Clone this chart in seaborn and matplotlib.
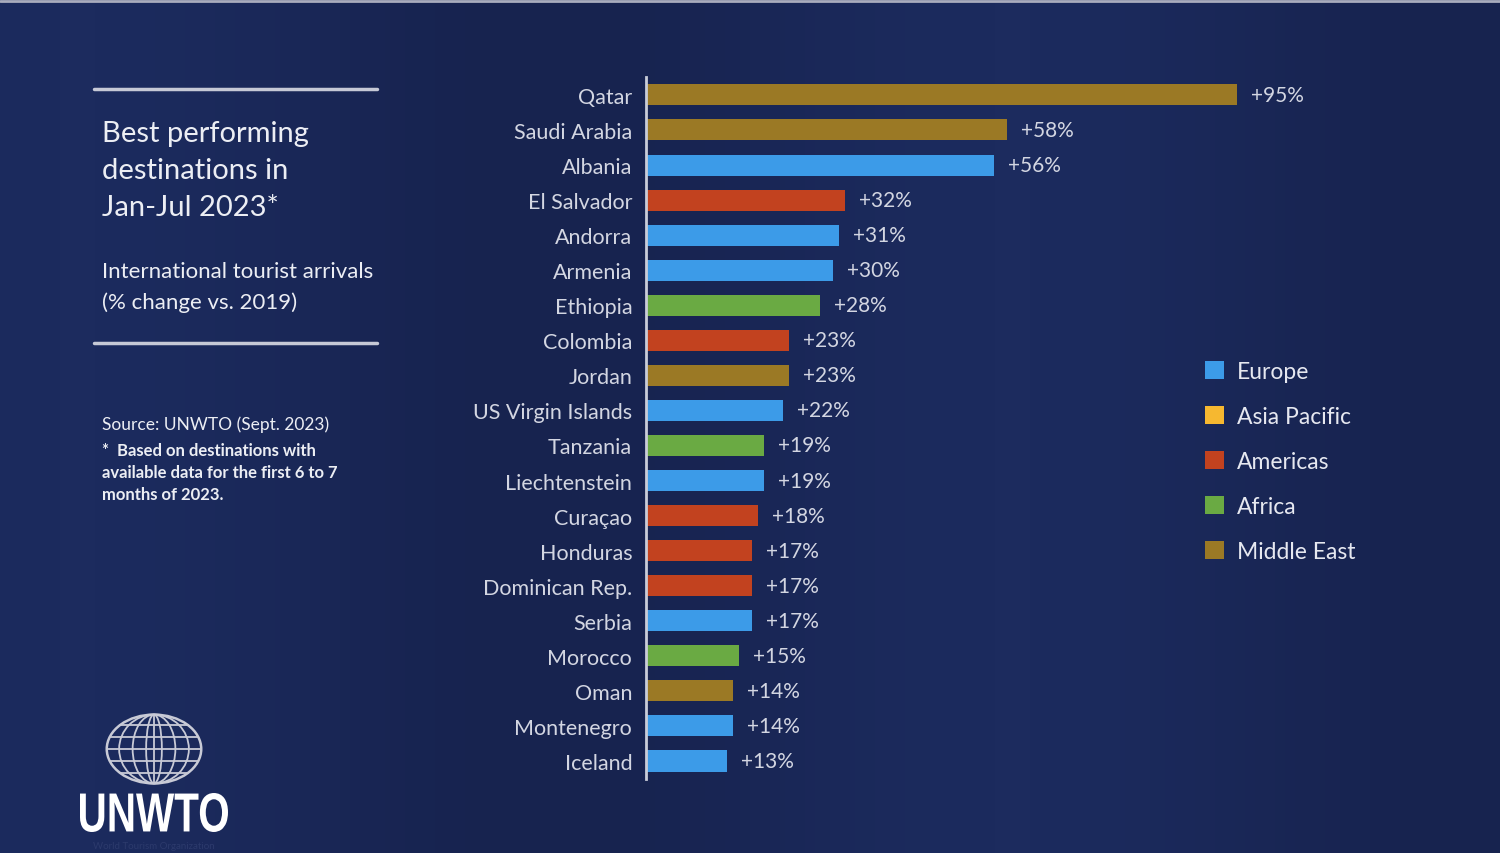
import matplotlib
matplotlib.use("Agg")
import matplotlib.pyplot as plt
import seaborn as sns
import pandas as pd
import numpy as np
from matplotlib.patches import Patch, Ellipse, PathPatch
from matplotlib.textpath import TextPath
from matplotlib.font_manager import FontProperties
from matplotlib.transforms import Affine2D
from matplotlib.colors import LinearSegmentedColormap

# data
countries = ["Qatar", "Saudi Arabia", "Albania", "El Salvador", "Andorra",
             "Armenia", "Ethiopia", "Colombia", "Jordan", "US Virgin Islands",
             "Tanzania", "Liechtenstein", "Curaçao", "Honduras",
             "Dominican Rep.", "Serbia", "Morocco", "Oman", "Montenegro",
             "Iceland"]
change_pct = [95, 58, 56, 32, 31, 30, 28, 23, 23, 22, 19, 19, 18, 17, 17, 17,
              15, 14, 14, 13]
region = ["Middle East", "Middle East", "Europe", "Americas", "Europe",
          "Europe", "Africa", "Americas", "Middle East", "Europe", "Africa",
          "Europe", "Americas", "Americas", "Americas", "Europe", "Africa",
          "Middle East", "Europe", "Europe"]
legend_regions = ["Europe", "Asia Pacific", "Americas", "Africa", "Middle East"]

region_colors = {
    "Europe": "#3c9be8",
    "Asia Pacific": "#f6b830",
    "Americas": "#c2421f",
    "Africa": "#6aaa43",
    "Middle East": "#9b7925",
}

BG = "#1a2758"
TXT = "#d3d6e2"

sns.set_theme(style="white")
plt.rcParams["font.family"] = ["Lato", "DejaVu Sans"]

df = pd.DataFrame({"country": countries, "change": change_pct, "region": region})

fig = plt.figure(figsize=(15, 8.54), dpi=100)
fig.patch.set_facecolor(BG)

# soft background gradient
bg = fig.add_axes([0, 0, 1, 1], zorder=-10)
xx = np.linspace(0, 1, 300)
grad = 0.5 + 0.5 * np.cos((xx - 0.05) * np.pi * 1.6) ** 2
grad = np.tile(grad, (10, 1))
cmap = LinearSegmentedColormap.from_list("bgc", ["#17234f", "#1c2b5e"])
bg.imshow(grad, aspect="auto", cmap=cmap, extent=[0, 1, 0, 1])
bg.axhline(0.998, color="#a9acbd", lw=2)
bg.set_axis_off()

ax = fig.add_axes([0.4307, 0.0872, 0.47, 0.821])
ax.set_facecolor("none")
sns.barplot(data=df, x="change", y="country", hue="region",
            palette=region_colors, dodge=False, width=0.6,
            saturation=1, legend=False, linewidth=0, edgecolor="none", ax=ax)

px_per_unit = (1237 - 646) / 95
ax.set_xlim(0, 0.47 * 1500 / px_per_unit)

for cont in ax.containers:
    ax.bar_label(cont, labels=[f"+{v:.0f}%" for v in cont.datavalues],
                 padding=10, color=TXT, fontsize=15)

ax.set_xlabel("")
ax.set_ylabel("")
ax.set_xticks([])
ax.tick_params(axis="y", length=0, pad=10, labelsize=15.5, labelcolor=TXT)
for s in ["top", "right", "bottom"]:
    ax.spines[s].set_visible(False)
ax.spines["left"].set_color("#c9ccd8")
ax.spines["left"].set_linewidth(2)

handles = [Patch(facecolor=region_colors[r], edgecolor="none", label=r)
           for r in legend_regions]
leg = fig.legend(handles=handles, loc="upper left",
                 bbox_to_anchor=(1184 / 1500, 1 - 341 / 854),
                 frameon=False, fontsize=16.5, labelcolor="#e6e8f0",
                 handlelength=0.85, handleheight=0.85, handletextpad=0.55,
                 labelspacing=1.05)

# left side text panel
fig.add_artist(plt.Line2D([94 / 1500, 377 / 1500], [1 - 90 / 854] * 2,
                          color="#c6c9d6", lw=2.5))
fig.add_artist(plt.Line2D([94 / 1500, 377 / 1500], [1 - 344 / 854] * 2,
                          color="#c6c9d6", lw=2.5))
fig.text(102 / 1500, 1 - 121 / 854,
         "Best performing\ndestinations in\nJan-Jul 2023*",
         color="#eceef4", fontsize=21, va="top", ha="left", linespacing=1.52)
fig.text(102 / 1500, 1 - 262 / 854,
         "International tourist arrivals\n(% change vs. 2019)",
         color="#eceef4", fontsize=16, va="top", ha="left", linespacing=1.6)
fig.text(102 / 1500, 1 - 416 / 854,
         "Source: UNWTO (Sept. 2023)",
         color="#eceef4", fontsize=12.5, va="top", ha="left")
fig.text(102 / 1500, 1 - 443 / 854,
         "*  Based on destinations with\navailable data for the first 6 to 7\nmonths of 2023.",
         color="#eceef4", fontsize=12, va="top", ha="left", linespacing=1.47,
         fontweight="bold")

# logo: globe
lg = fig.add_axes([100 / 1500, 1 - 790 / 854, 108 / 1500, 80 / 854])
lg.set_xlim(-1.2, 1.2)
lg.set_ylim(-1.0, 1.0)
lg.set_axis_off()
gcol = "#c8cad6"
lg.add_patch(Ellipse((0, 0), 2.1, 1.72, fill=False, ec=gcol, lw=1.8))
for w in [1.55, 0.95, 0.35]:
    lg.add_patch(Ellipse((0, 0), w, 1.72, fill=False, ec=gcol, lw=1.3))
lg.plot([0, 0], [-0.86, 0.86], color=gcol, lw=1.3)
for yv in [-0.6, -0.3, 0, 0.3, 0.6]:
    half = 1.05 * np.sqrt(1 - (yv / 0.86) ** 2)
    lg.plot([-half, half], [yv, yv], color=gcol, lw=1.3)

# logo: condensed wordmark, squeezed into its box in pixel coords
ov = fig.add_axes([0, 0, 1, 1], zorder=5)
ov.set_xlim(0, 1500)
ov.set_ylim(854, 0)
ov.set_axis_off()
tp = TextPath((0, 0), "UNWTO", size=100,
              prop=FontProperties(family="Liberation Sans", weight="bold"))
ext = tp.get_extents()
sx = 148 / ext.width
sy = 39 / ext.height
tr = Affine2D().translate(-ext.x0, -ext.y0).scale(sx, -sy).translate(80, 833)
ov.add_patch(PathPatch(tr.transform_path(tp), fc="white", ec="none"))
ov.text(154, 847, "World Tourism Organization", color="#2c3a6c",
        fontsize=7, ha="center", va="center")

fig.savefig("out.png", dpi=100, facecolor=BG)
